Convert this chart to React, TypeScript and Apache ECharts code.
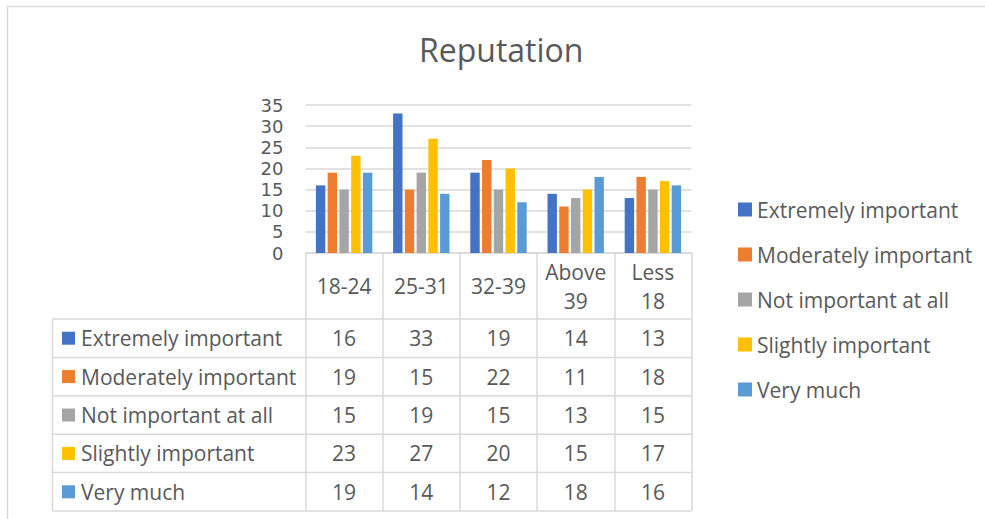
import React, { useEffect, useRef } from "react";
import * as echarts from "echarts";

// Age groups (column headers of the data table)
const categories = ["18-24", "25-31", "32-39", "Above\n39", "Less\n18"];

// Responses per age group
const seriesNames = [
  "Extremely important",
  "Moderately important",
  "Not important at all",
  "Slightly important",
  "Very much",
];
const extremelyImportant = [16, 33, 19, 14, 13];
const moderatelyImportant = [19, 15, 22, 11, 18];
const notImportantAtAll = [15, 19, 15, 13, 15];
const slightlyImportant = [23, 27, 20, 15, 17];
const veryMuch = [19, 14, 12, 18, 16];

const seriesValues = [
  extremelyImportant,
  moderatelyImportant,
  notImportantAtAll,
  slightlyImportant,
  veryMuch,
];
const seriesColors = ["#4472C4", "#ED7D31", "#A5A5A5", "#FFC000", "#5B9BD5"];

const yMin = 0;
const yMax = 35;
const yStep = 5;

const W = 985;
const H = 519;
const FONT = "'Open Sans', 'Noto Sans', sans-serif";
const AXIS_FONT = "'DejaVu Sans', sans-serif";
const TEXT = "#595959";
const RULE = "#d9d9d9";

// plot area
const GRID_LEFT = 305.5;
const GRID_RIGHT_X = 691.5;
const GRID_TOP = 105;
const GRID_BOTTOM_Y = 253;

// data table under the plot
const HEADER_H = 66;
const ROW_H = 38.4;
const TABLE_LEFT = 52.5;
const TABLE_BOTTOM = GRID_BOTTOM_Y + HEADER_H + ROW_H * seriesNames.length;

export default function App() {
  const ref = useRef<HTMLDivElement>(null);

  useEffect(() => {
    if (!ref.current) return;
    const chart = echarts.init(ref.current, undefined, {
      renderer: "svg",
      width: W,
      height: H,
    });

    chart.setOption({
      animation: false,
      backgroundColor: "#ffffff",
      textStyle: { fontFamily: FONT },
      title: {
        text: "Reputation",
        left: 414,
        top: 28,
        textStyle: {
          color: TEXT,
          fontSize: 32,
          fontWeight: "normal",
          fontFamily: FONT,
        },
      },
      legend: {
        orient: "vertical",
        left: 733,
        top: 194,
        padding: 5,
        icon: "rect",
        itemWidth: 14,
        itemHeight: 14,
        itemGap: 24,
        data: seriesNames,
        textStyle: {
          color: TEXT,
          fontSize: 21,
          lineHeight: 21,
          fontFamily: FONT,
        },
      },
      grid: {
        left: GRID_LEFT,
        right: W - GRID_RIGHT_X,
        top: GRID_TOP,
        bottom: H - GRID_BOTTOM_Y,
        containLabel: false,
      },
      xAxis: {
        type: "category",
        data: categories,
        axisLine: { show: true, lineStyle: { color: RULE, width: 1.5 } },
        axisTick: {
          show: true,
          interval: 0,
          length: TABLE_BOTTOM - GRID_BOTTOM_Y,
          lineStyle: { color: RULE, width: 1.5 },
        },
        axisLabel: {
          interval: 0,
          color: TEXT,
          fontSize: 21,
          lineHeight: 29,
          margin: HEADER_H / 2,
          verticalAlign: "middle",
          fontFamily: FONT,
        },
      },
      yAxis: {
        type: "value",
        min: yMin,
        max: yMax,
        interval: yStep,
        axisLine: { show: false },
        axisTick: { show: false },
        splitLine: { lineStyle: { color: RULE, width: 1.5 } },
        axisLabel: {
          color: TEXT,
          fontSize: 18,
          lineHeight: 18,
          margin: 22,
          fontFamily: AXIS_FONT,
        },
      },
      series: seriesNames.map((name, i) => ({
        name,
        type: "bar",
        data: seriesValues[i],
        barWidth: 9.4,
        barGap: "25%",
        itemStyle: { color: seriesColors[i] },
      })),
    });

    // Data table body: row labels with colour keys and one cell per value,
    // columns placed at the category axis positions.
    const colX = categories.map(
      (c) => chart.convertToPixel({ xAxisIndex: 0 }, c) as number
    );
    const bodyTop = GRID_BOTTOM_Y + HEADER_H;
    const graphics: any[] = [
      {
        type: "rect",
        silent: true,
        z: -1,
        shape: { x: 7.5, y: 6.5, width: W + 20, height: H + 20 },
        style: { fill: "none", stroke: RULE, lineWidth: 1.5 },
      },
      {
        type: "line",
        silent: true,
        shape: { x1: TABLE_LEFT, y1: bodyTop, x2: TABLE_LEFT, y2: TABLE_BOTTOM },
        style: { stroke: RULE, lineWidth: 1.5 },
      },
    ];
    for (let r = 0; r <= seriesNames.length; r++) {
      const y = bodyTop + r * ROW_H;
      graphics.push({
        type: "line",
        silent: true,
        shape: { x1: TABLE_LEFT, y1: y, x2: GRID_RIGHT_X, y2: y },
        style: { stroke: RULE, lineWidth: 1.5 },
      });
    }
    seriesNames.forEach((name, r) => {
      const cy = bodyTop + r * ROW_H + ROW_H / 2;
      graphics.push({
        type: "rect",
        silent: true,
        shape: { x: 62, y: cy - 6.5, width: 13, height: 13 },
        style: { fill: seriesColors[r] },
      });
      graphics.push({
        type: "text",
        silent: true,
        x: 81,
        y: cy,
        style: {
          text: name,
          fill: TEXT,
          fontSize: 21,
          fontFamily: FONT,
          align: "left",
          verticalAlign: "middle",
        },
      });
      seriesValues[r].forEach((v, c) => {
        graphics.push({
          type: "text",
          silent: true,
          x: colX[c],
          y: cy,
          style: {
            text: String(v),
            fill: TEXT,
            fontSize: 21,
            fontFamily: FONT,
            align: "center",
            verticalAlign: "middle",
          },
        });
      });
    });
    chart.setOption({ graphic: graphics });

    return () => chart.dispose();
  }, []);

  return (
    <div
      ref={ref}
      style={{
        position: "absolute",
        left: 0,
        top: 0,
        width: W,
        height: H,
        background: "#ffffff",
      }}
    />
  );
}
